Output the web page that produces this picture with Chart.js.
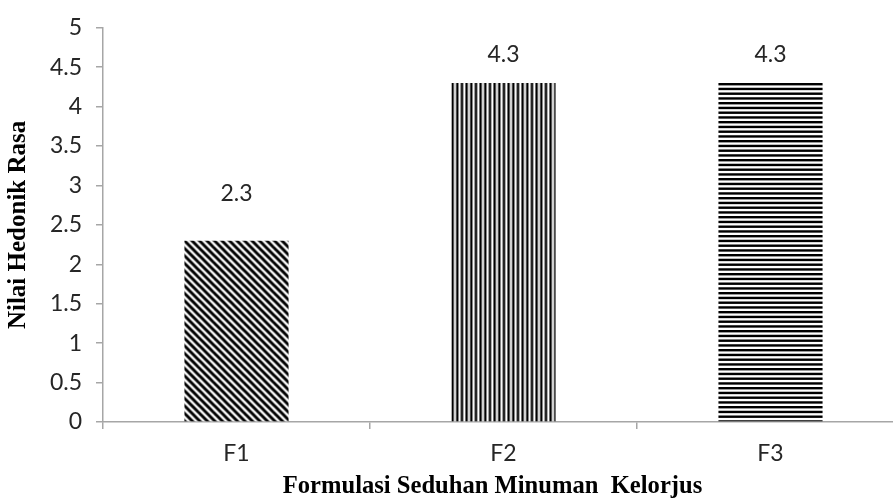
<!DOCTYPE html>
<html>
<head>
<meta charset="utf-8">
<script src="https://cdn.jsdelivr.net/npm/chart.js@4"></script>
<style>
  html, body { margin: 0; padding: 0; background: #fff; }
  #wrap { width: 893px; height: 500px; overflow: hidden; position: relative; }
  #c { display: block; }
</style>
</head>
<body>
<div id="wrap"><canvas id="c" width="910" height="500"></canvas></div>
<script>
// Hedonic taste scores for each formulation
const categories = ['F1', 'F2', 'F3'];
const scores = [2.3, 4.3, 4.3];
const yTicks = [0, 0.5, 1, 1.5, 2, 2.5, 3, 3.5, 4, 4.5, 5];
const xTitle = 'Formulasi Seduhan Minuman  Kelorjus';
const yTitle = 'Nilai Hedonik Rasa';

// Distance of each value label above its bar top (px)
const labelLift = [47, 28, 28];

// Hatch fills
function makeTile(w, h, paint) {
  const t = document.createElement('canvas');
  t.width = w; t.height = h;
  const g = t.getContext('2d');
  g.fillStyle = '#fff';
  g.fillRect(0, 0, w, h);
  paint(g);
  return g.createPattern(t, 'repeat');
}

const diagonal = makeTile(15, 15, g => {
  g.strokeStyle = '#000';
  g.lineWidth = 3;
  for (let k = -2; k <= 2; k++) {
    const o = k * 7.5;
    g.beginPath();
    g.moveTo(o - 2, -2);
    g.lineTo(o + 17, 17);
    g.stroke();
  }
});
const vertical = makeTile(14, 4, g => {
  g.fillStyle = '#000';
  for (let k = 0; k < 3; k++) g.fillRect(k * 14 / 3, 0, 2.4, 4);
});
const horizontal = makeTile(4, 19, g => {
  g.fillStyle = '#000';
  for (let k = 0; k < 4; k++) g.fillRect(0, k * 4.75, 4, 2.4);
});
const hatches = [diagonal, vertical, horizontal];

// Start each hatch at its bar's top-left corner
const anchorHatch = {
  id: 'anchorHatch',
  beforeDatasetsDraw(chart) {
    chart.getDatasetMeta(0).data.forEach((bar, i) => {
      const m = new DOMMatrix().translate(bar.x - bar.width / 2, bar.y);
      hatches[i].setTransform(m);
    });
  }
};

const labelFont = '23px Lato';

const valueLabels = {
  id: 'valueLabels',
  afterDatasetsDraw(chart) {
    const c = chart.ctx;
    const meta = chart.getDatasetMeta(0);
    c.save();
    c.font = labelFont;
    c.fillStyle = '#262626';
    c.textAlign = 'center';
    c.textBaseline = 'middle';
    meta.data.forEach((bar, i) => {
      const v = chart.data.datasets[0].data[i];
      c.fillText(v.toFixed(1), bar.x, bar.y - labelLift[i]);
    });
    c.restore();
  }
};

// Category-axis title, centred a little left of the plot middle
const xAxisTitle = {
  id: 'xAxisTitle',
  afterDraw(chart) {
    const c = chart.ctx;
    const xs = chart.scales.x;
    c.save();
    c.font = 'bold 24.6px "Liberation Serif"';
    c.fillStyle = '#000';
    c.textAlign = 'center';
    c.textBaseline = 'middle';
    c.fillText(xTitle, xs.getPixelForValue(1) - 11, xs.bottom - 13);
    c.restore();
  }
};

const axisGray = '#a6a6a6';

new Chart(document.getElementById('c'), {
  type: 'bar',
  data: {
    labels: categories,
    datasets: [{
      data: scores,
      backgroundColor: hatches,
      borderWidth: 0,
      categoryPercentage: 1,
      barPercentage: 0.39
    }]
  },
  options: {
    responsive: false,
    animation: false,
    events: [],
    layout: { padding: { top: 24, right: 6, left: 0, bottom: 0 } },
    plugins: { legend: { display: false }, tooltip: { enabled: false } },
    scales: {
      x: {
        afterFit(s) { s.height = 78; },
        grid: { drawOnChartArea: false, color: axisGray, tickLength: 7, lineWidth: 1.5 },
        border: { color: axisGray, width: 1.5 },
        ticks: { color: '#262626', font: { family: 'Lato', size: 23 }, padding: 11 }
      },
      y: {
        min: 0, max: 5,
        afterFit(s) { s.width = 103; },
        afterBuildTicks(s) { s.ticks = yTicks.map(v => ({ value: v })); },
        grid: { drawOnChartArea: false, color: axisGray, tickLength: 7, lineWidth: 1.5 },
        border: { color: axisGray, width: 1.5 },
        ticks: {
          color: '#262626', font: { family: 'Lato', size: 23 }, padding: 14,
          callback: v => String(v)
        },
        title: {
          display: true, text: yTitle, color: '#000',
          font: { family: 'Liberation Serif', size: 25, weight: 'bold' },
          padding: { top: 4, bottom: 0 }
        }
      }
    }
  },
  plugins: [anchorHatch, valueLabels, xAxisTitle]
});
</script>
</body>
</html>
